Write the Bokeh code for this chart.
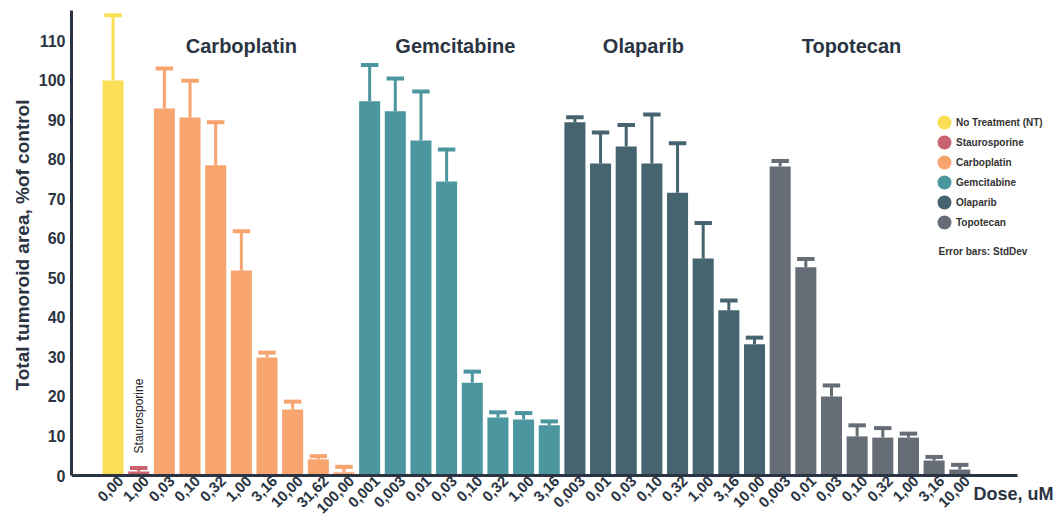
import math
from bokeh.plotting import figure
from bokeh.models import (Range1d, FixedTicker, ColumnDataSource, Legend, LegendItem, Label, Title)
from bokeh.core.properties import value
from bokeh.embed import file_html
from bokeh.resources import INLINE

# ---------------- data ----------------
groups = ["No Treatment (NT)", "Staurosporine", "Carboplatin", "Gemcitabine", "Olaparib", "Topotecan"]
colors = ["#FADE55", "#C9636F", "#F7A46F", "#4C96A0", "#466370", "#676D76"]

nt_dose = ["0,00"]
nt_mean = [100.0]
nt_sd = [16.5]

stau_dose = ["1,00"]
stau_mean = [1.0]
stau_sd = [0.9]

carbo_dose = ["0,03", "0,10", "0,32", "1,00", "3,16", "10,00", "31,62", "100,00"]
carbo_mean = [92.9, 90.6, 78.5, 51.9, 29.9, 16.7, 4.1, 0.8]
carbo_sd = [10.1, 9.3, 10.9, 9.9, 1.2, 2.0, 0.8, 1.4]

gem_dose = ["0,001", "0,003", "0,01", "0,03", "0,10", "0,32", "1,00", "3,16"]
gem_mean = [94.7, 92.2, 84.8, 74.4, 23.5, 14.7, 14.2, 12.7]
gem_sd = [9.2, 8.3, 12.4, 8.1, 2.8, 1.3, 1.6, 1.0]

ola_dose = ["0,003", "0,01", "0,03", "0,10", "0,32", "1,00", "3,16", "10,00"]
ola_mean = [89.4, 79.0, 83.3, 79.0, 71.6, 54.9, 41.8, 33.2]
ola_sd = [1.3, 7.8, 5.4, 12.4, 12.5, 9.0, 2.5, 1.7]

topo_dose = ["0,003", "0,01", "0,03", "0,10", "0,32", "1,00", "3,16", "10,00"]
topo_mean = [78.2, 52.7, 20.0, 9.9, 9.6, 9.6, 3.8, 1.5]
topo_sd = [1.4, 2.1, 2.8, 2.8, 2.4, 1.0, 0.9, 1.2]

group_titles = ["Carboplatin", "Gemcitabine", "Olaparib", "Topotecan"]

# ---------------- styling constants ----------------
FONT = "Liberation Sans"
DARK = "#2B3442"
BAR_W = 0.82
CAP_W = 0.68
LABEL_SHIFT = 0.3   # tick-label anchor offset (category units)
X_AXIS = (-1.62, 35.24)
Y_AXIS = (0, 117.7)

doses = [nt_dose, stau_dose, carbo_dose, gem_dose, ola_dose, topo_dose]
means = [nt_mean, stau_mean, carbo_mean, gem_mean, ola_mean, topo_mean]
sds = [nt_sd, stau_sd, carbo_sd, gem_sd, ola_sd, topo_sd]

p = figure(width=1056, height=521,
           x_range=Range1d(X_AXIS[0], 36.77), y_range=Range1d(-11.64, Y_AXIS[1]),
           output_backend="svg", toolbar_location=None,
           min_border_left=71, min_border_right=0,
           min_border_top=10, min_border_bottom=0)
p.outline_line_color = None
p.xgrid.grid_line_color = None
p.ygrid.grid_line_color = None
p.background_fill_color = "white"

all_labels = []
start = 0
group_x = []
group_src = []
for g, (d, m, s, c) in enumerate(zip(doses, means, sds, colors)):
    xs = list(range(start, start + len(m)))
    group_x.append(xs)
    all_labels += d
    top = [a + b for a, b in zip(m, s)]
    src = ColumnDataSource(dict(x=xs, m=m, top=top,
                                x0=[x - CAP_W / 2 for x in xs],
                                x1=[x + CAP_W / 2 for x in xs]))
    group_src.append(src)
    p.vbar(x="x", top="m", bottom=0, width=BAR_W, source=src,
           fill_color=c, line_color=None)
    p.segment(x0="x", y0="m", x1="x", y1="top", source=src,
              line_color=c, line_width=3)
    p.segment(x0="x0", y0="top", x1="x1", y1="top", source=src,
              line_color=c, line_width=4)
    start += len(m)

# group titles
title_x = [5.0, 13.34, 20.67, 28.78]
p.text(x=title_x, y=[108.8] * 4, text=group_titles,
       text_font=value(FONT), text_font_style="bold", text_font_size="20px",
       text_color=DARK, text_align="center", text_baseline="middle")

# staurosporine vertical label
p.text(x=[group_x[1][0]], y=[5.6], text=["Staurosporine"], angle=math.pi / 2,
       text_font=value(FONT), text_font_size="12px", text_color="#222222",
       text_align="left", text_baseline="middle")

# axes
tick_pos = [i + LABEL_SHIFT for i in range(len(all_labels))]
xa = p.xaxis[0]
xa.fixed_location = 0
xa.bounds = X_AXIS
xa.ticker = FixedTicker(ticks=tick_pos)
xa.major_label_overrides = {t: lab for t, lab in zip(tick_pos, all_labels)}
xa.major_label_orientation = math.pi / 4
xa.major_label_text_font = FONT
xa.major_label_text_font_style = "bold"
xa.major_label_text_font_size = "15px"
xa.major_label_text_color = DARK
xa.major_tick_line_color = None
xa.minor_tick_line_color = None
xa.major_tick_out = 0
xa.major_tick_in = 0
xa.minor_tick_out = 0
xa.major_label_standoff = 3
xa.axis_line_color = DARK
xa.axis_line_width = 3

ya = p.yaxis[0]
ya.bounds = Y_AXIS
ya.ticker = FixedTicker(ticks=list(range(0, 111, 10)))
ya.major_label_text_font = FONT
ya.major_label_text_font_style = "bold"
ya.major_label_text_font_size = "16px"
ya.major_label_text_color = DARK
ya.major_tick_line_color = None
ya.minor_tick_line_color = None
ya.major_tick_out = 0
ya.major_tick_in = 0
ya.minor_tick_out = 0
ya.major_label_standoff = 6
ya.axis_line_color = DARK
ya.axis_line_width = 3

p.add_layout(Title(text="Total tumoroid area, %of control", align="left", offset=131,
                   standoff=6, text_font=FONT, text_font_style="bold",
                   text_font_size="19px", text_color=DARK), "left")

# legend (circle markers)
items = []
for name, c, src in zip(groups, colors, group_src):
    r = p.scatter(x="x", y="m", source=src, marker="circle", size=0,
                  fill_color=c, line_color=c, line_width=6)
    items.append(LegendItem(label=name, renderers=[r]))
leg = Legend(items=items, location=(863, 289),
             glyph_width=20, glyph_height=20, spacing=0, label_standoff=2,
             label_height=20, padding=0, margin=0,
             border_line_color=None, background_fill_alpha=0,
             label_text_font=FONT, label_text_font_style="bold",
             label_text_font_size="10px", label_text_color="#333333")
p.add_layout(leg, "center")

p.add_layout(Label(x=867, y=270, x_units="screen", y_units="screen",
                   text="Error bars: StdDev", text_font=FONT, text_font_style="bold",
                   text_font_size="10px", text_color="#333333", text_baseline="middle"))
p.add_layout(Label(x=902, y=28, x_units="screen", y_units="screen",
                   text="Dose, uM", text_font=FONT, text_font_style="bold",
                   text_font_size="18px", text_color=DARK, text_baseline="middle"))

open("out.html", "w").write(file_html(p, INLINE))
